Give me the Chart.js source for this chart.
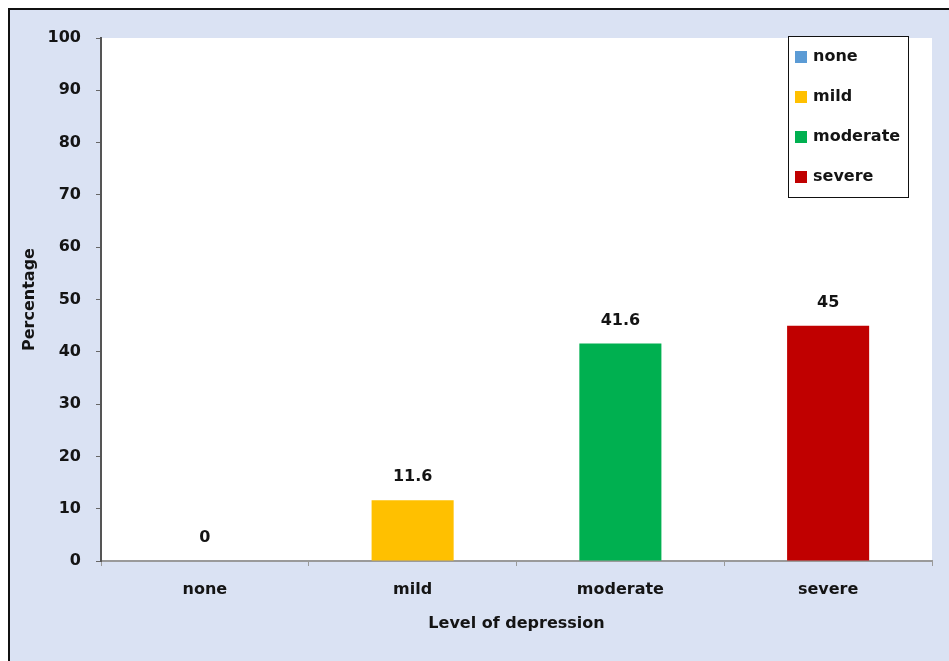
<!DOCTYPE html>
<html>
<head>
<meta charset="utf-8">
<script src="https://cdn.jsdelivr.net/npm/chart.js@4.4.0/dist/chart.umd.min.js"></script>
<style>
  html, body { margin: 0; padding: 0; background: #fff; }
  #wrap { width: 949px; height: 661px; position: relative; }
</style>
</head>
<body>
<div id="wrap"><canvas id="c" width="949" height="661"></canvas></div>
<script>
// data
var levels = ['none', 'mild', 'moderate', 'severe'];
var percentages = [0, 11.6, 41.6, 45];
var barColors = ['#5b9bd5', '#ffc000', '#00b050', '#c00000'];
var yTicks = [0, 10, 20, 30, 40, 50, 60, 70, 80, 90, 100];

var FONT = "'DejaVu Sans', sans-serif";
var TXT = '#141414';

// panel background + white plot area
var backdrop = {
  id: 'backdrop',
  beforeDraw: function(chart) {
    var ctx = chart.ctx, a = chart.chartArea;
    ctx.save();
    ctx.fillStyle = '#ffffff';
    ctx.fillRect(0, 0, chart.width, chart.height);
    ctx.fillStyle = '#dae2f3';
    ctx.fillRect(9, 9, chart.width, chart.height);
    ctx.strokeStyle = '#111';
    ctx.lineWidth = 2;
    ctx.beginPath();
    ctx.moveTo(9, chart.height);
    ctx.lineTo(9, 9);
    ctx.lineTo(chart.width, 9);
    ctx.stroke();
    ctx.fillStyle = '#ffffff';
    ctx.fillRect(a.left, a.top, a.right - a.left, a.bottom - a.top);
    ctx.restore();
  }
};

// value labels above each bar
var valueLabels = {
  id: 'valueLabels',
  afterDatasetsDraw: function(chart) {
    var ctx = chart.ctx;
    var meta = chart.getDatasetMeta(0);
    ctx.save();
    ctx.font = 'bold 16px ' + FONT;
    ctx.fillStyle = TXT;
    ctx.textAlign = 'center';
    ctx.textBaseline = 'middle';
    meta.data.forEach(function(bar, i) {
      ctx.fillText(String(percentages[i]), bar.x, bar.y - 23);
    });
    ctx.restore();
  }
};

// boxed legend in the top right corner of the plot
var boxLegend = {
  id: 'boxLegend',
  afterDraw: function(chart) {
    var ctx = chart.ctx, a = chart.chartArea;
    var w = 120, h = 161;
    var x = a.right - 24 - w, y = a.top - 2;
    ctx.save();
    ctx.fillStyle = '#fff';
    ctx.fillRect(x, y, w, h);
    ctx.strokeStyle = '#111';
    ctx.lineWidth = 1;
    ctx.strokeRect(x + 0.5, y + 0.5, w, h);
    ctx.font = 'bold 16px ' + FONT;
    ctx.textAlign = 'left';
    ctx.textBaseline = 'middle';
    levels.forEach(function(lab, i) {
      var cy = y + 21 + i * 40;
      ctx.fillStyle = barColors[i];
      ctx.fillRect(x + 7, cy - 6, 12, 12);
      ctx.fillStyle = TXT;
      ctx.fillText(lab, x + 25, cy);
    });
    ctx.restore();
  }
};

new Chart(document.getElementById('c'), {
  type: 'bar',
  data: {
    labels: levels,
    datasets: [{
      data: percentages,
      backgroundColor: barColors,
      borderWidth: 0,
      categoryPercentage: 1,
      barPercentage: 0.395
    }]
  },
  options: {
    responsive: false,
    devicePixelRatio: 1,
    animation: false,
    layout: { padding: { left: 0, top: 38, right: 17, bottom: 0 } },
    plugins: {
      legend: { display: false },
      tooltip: { enabled: false }
    },
    scales: {
      x: {
        afterFit: function(s) { s.height = 100; },
        grid: { display: true, drawOnChartArea: false, drawTicks: true, tickLength: 5, color: '#9a9a9a', offset: true },
        border: { display: true, color: '#9a9a9a', width: 2 },
        ticks: { color: TXT, font: { family: FONT, size: 16, weight: 'bold' }, padding: 14 },
        title: {
          display: true, text: 'Level of depression', color: TXT,
          font: { family: FONT, size: 16, weight: 'bold' },
          padding: { top: 0, bottom: 28 }
        }
      },
      y: {
        min: 0, max: 100,
        afterFit: function(s) { s.width = 101; },
        afterBuildTicks: function(s) { s.ticks = yTicks.map(function(v) { return { value: v }; }); },
        grid: { display: true, drawOnChartArea: false, drawTicks: true, tickLength: 5, color: '#666' },
        border: { display: true, color: '#555', width: 2 },
        ticks: { color: TXT, font: { family: FONT, size: 16, weight: 'bold' }, padding: 15 },
        title: {
          display: true, text: 'Percentage', color: TXT,
          font: { family: FONT, size: 16, weight: 'bold' },
          padding: { top: 20, bottom: 0 }
        }
      }
    }
  },
  plugins: [backdrop, valueLabels, boxLegend]
});
</script>
</body>
</html>
